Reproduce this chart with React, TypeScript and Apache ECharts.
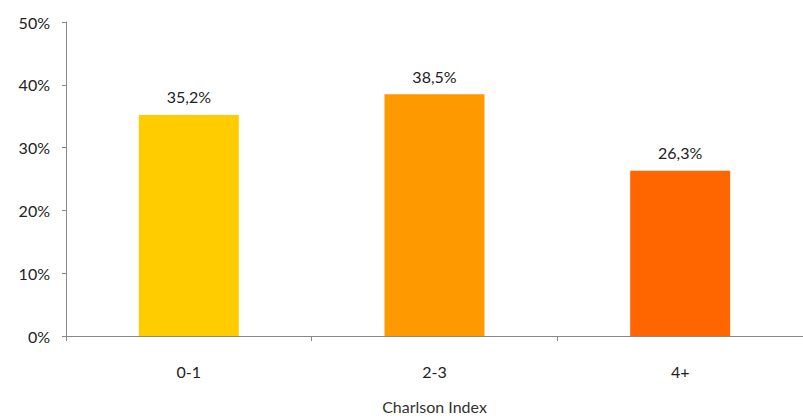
import React, { useEffect, useRef } from "react";
import * as echarts from "echarts";

const categories = ["0-1", "2-3", "4+"];
const shares = [35.2, 38.5, 26.3];
const barColors = ["#FFCC00", "#FF9900", "#FF6600"];
const yTicks = [0, 10, 20, 30, 40, 50];

const fmt = (v: number) => v.toFixed(1).replace(".", ",") + "%";

export default function App() {
  const ref = useRef<HTMLDivElement>(null);
  useEffect(() => {
    if (!ref.current) return;
    const chart = echarts.init(ref.current, undefined, { renderer: "svg" });
    const font = "Lato, sans-serif";
    chart.setOption({
      animation: false,
      grid: { left: 66, width: 741, top: 22, bottom: 80, containLabel: false },
      xAxis: {
        type: "category",
        data: categories,
        name: "Charlson Index",
        nameLocation: "middle",
        nameGap: 62,
        nameTextStyle: { fontFamily: font, fontSize: 16, color: "#333" },
        axisLine: { lineStyle: { color: "#888", width: 1 } },
        axisTick: { show: true, length: 5, lineStyle: { color: "#888" } },
        axisLabel: { fontFamily: font, fontSize: 16, color: "#222", margin: 27 },
      },
      yAxis: {
        type: "value",
        min: yTicks[0],
        max: yTicks[yTicks.length - 1],
        interval: 10,
        splitLine: { show: false },
        axisLine: { show: true, lineStyle: { color: "#888", width: 1 } },
        axisTick: { show: true, length: 4, lineStyle: { color: "#888" } },
        axisLabel: {
          fontFamily: font,
          fontSize: 16,
          color: "#222",
          margin: 16,
          formatter: (v: number) => v + "%",
        },
      },
      series: [
        {
          type: "bar",
          barWidth: 100,
          data: shares.map((v, i) => ({ value: v, itemStyle: { color: barColors[i] } })),
          label: {
            show: true,
            position: "top",
            distance: 10,
            fontFamily: font,
            fontSize: 16,
            color: "#222",
            formatter: (p: any) => fmt(p.value),
          },
        },
      ],
    });
    return () => chart.dispose();
  }, []);
  return (
    <div
      ref={ref}
      style={{ position: "fixed", left: 0, top: 0, width: 803, height: 419, background: "#fff" }}
    />
  );
}
